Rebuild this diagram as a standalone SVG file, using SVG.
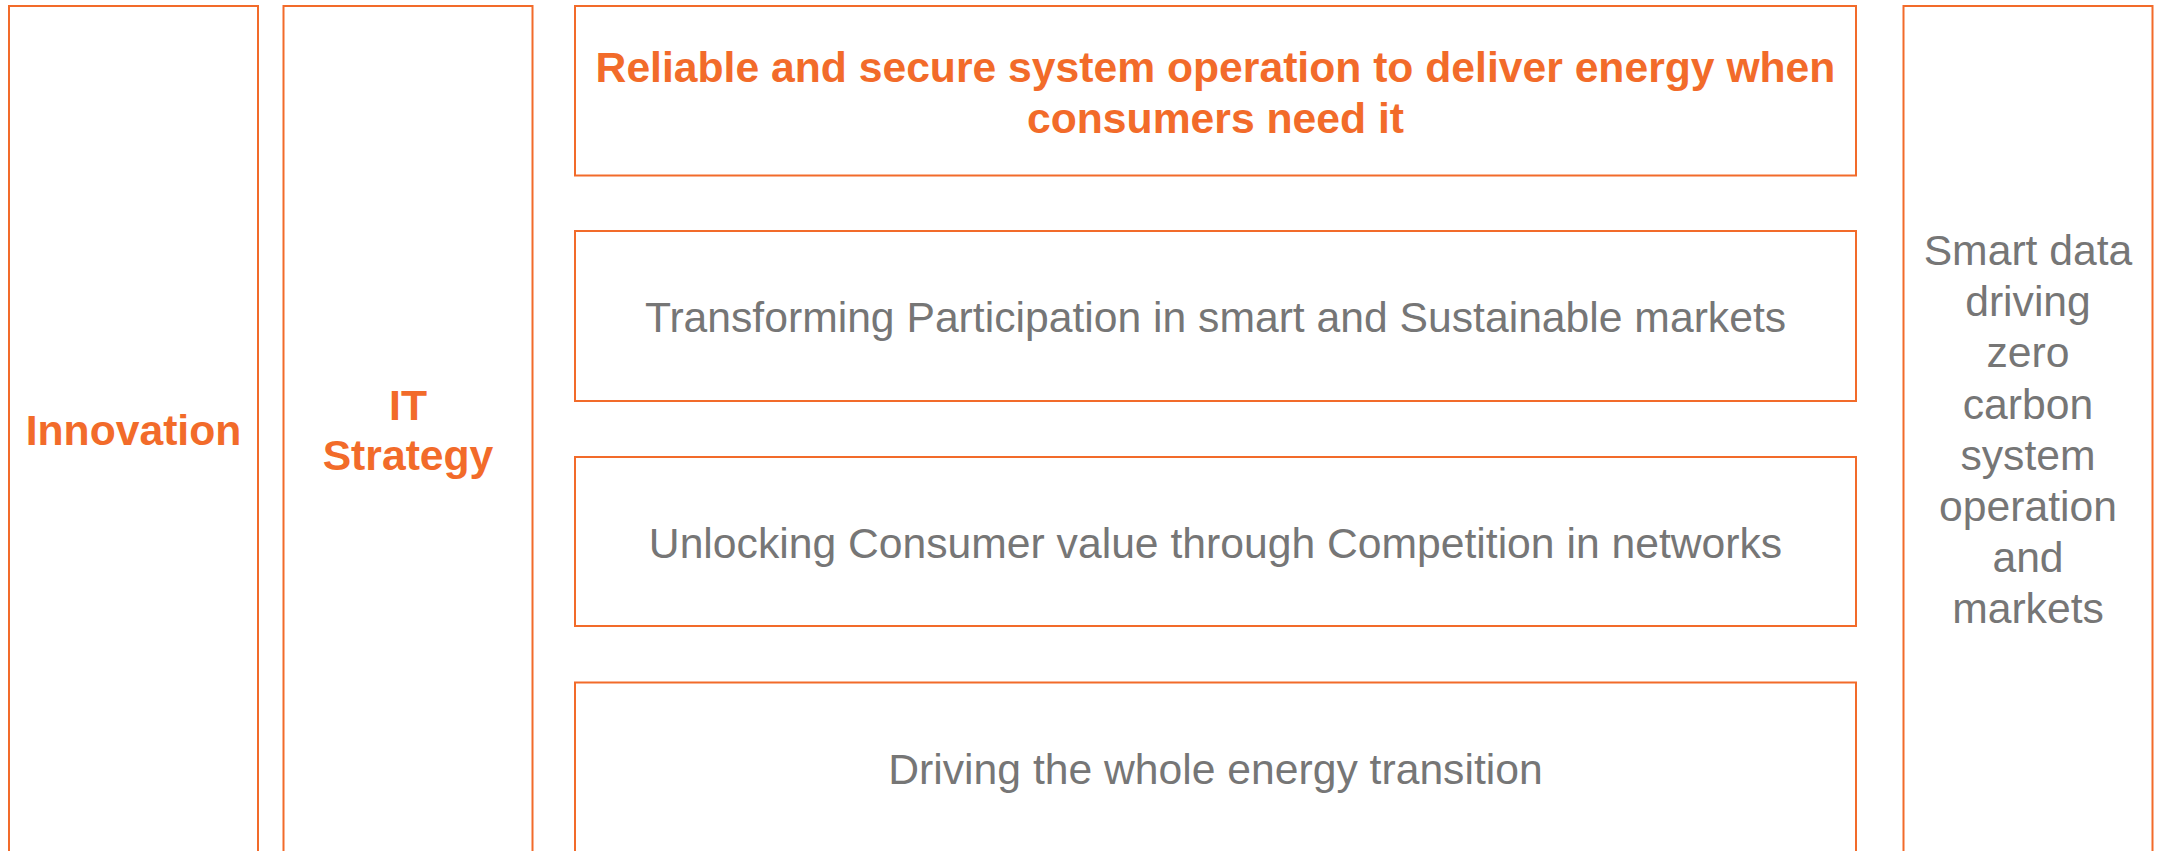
<svg xmlns="http://www.w3.org/2000/svg" width="2166" height="851" viewBox="0 0 2166 851">
  <style>
    .box { fill: #ffffff; stroke: #F26B2A; stroke-width: 2; }
    .hd { font-family: "Liberation Sans", Arial, sans-serif; font-size: 42.67px; font-weight: bold; fill: #F26B2A; text-anchor: middle; }
    .tx { font-family: "Liberation Sans", Arial, sans-serif; font-size: 42.67px; fill: #767676; text-anchor: middle; }
  </style>
  <rect x="0" y="0" width="2166" height="851" fill="#ffffff"/>
  <g id="innovation">
    <rect class="box" x="9" y="6" width="249" height="870"/>
    <text class="hd" x="133.5" y="445">Innovation</text>
  </g>
  <g id="it-strategy">
    <rect class="box" x="283.5" y="6" width="249" height="870"/>
    <text class="hd" x="408" y="420">IT</text>
    <text class="hd" x="408" y="470">Strategy</text>
  </g>
  <g id="reliable">
    <rect class="box" x="575" y="6" width="1281" height="169.5"/>
    <text class="hd" x="1215.5" y="82">Reliable and secure system operation to deliver energy when</text>
    <text class="hd" x="1215.5" y="133">consumers need it</text>
  </g>
  <g id="transforming">
    <rect class="box" x="575" y="231" width="1281" height="170"/>
    <text class="tx" x="1215.5" y="332">Transforming Participation in smart and Sustainable markets</text>
  </g>
  <g id="unlocking">
    <rect class="box" x="575" y="457" width="1281" height="169"/>
    <text class="tx" x="1215.5" y="558.3">Unlocking Consumer value through Competition in networks</text>
  </g>
  <g id="driving">
    <rect class="box" x="575" y="682.5" width="1281" height="200"/>
    <text class="tx" x="1215.5" y="784">Driving the whole energy transition</text>
  </g>
  <g id="smart-data">
    <rect class="box" x="1903.5" y="6" width="249" height="870"/>
    <text class="tx" x="2028" y="265">Smart data</text>
    <text class="tx" x="2028" y="316.2">driving</text>
    <text class="tx" x="2028" y="367.4">zero</text>
    <text class="tx" x="2028" y="418.6">carbon</text>
    <text class="tx" x="2028" y="469.8">system</text>
    <text class="tx" x="2028" y="521">operation</text>
    <text class="tx" x="2028" y="572.2">and</text>
    <text class="tx" x="2028" y="623.4">markets</text>
  </g>
  <g id="connectors"></g>
</svg>
